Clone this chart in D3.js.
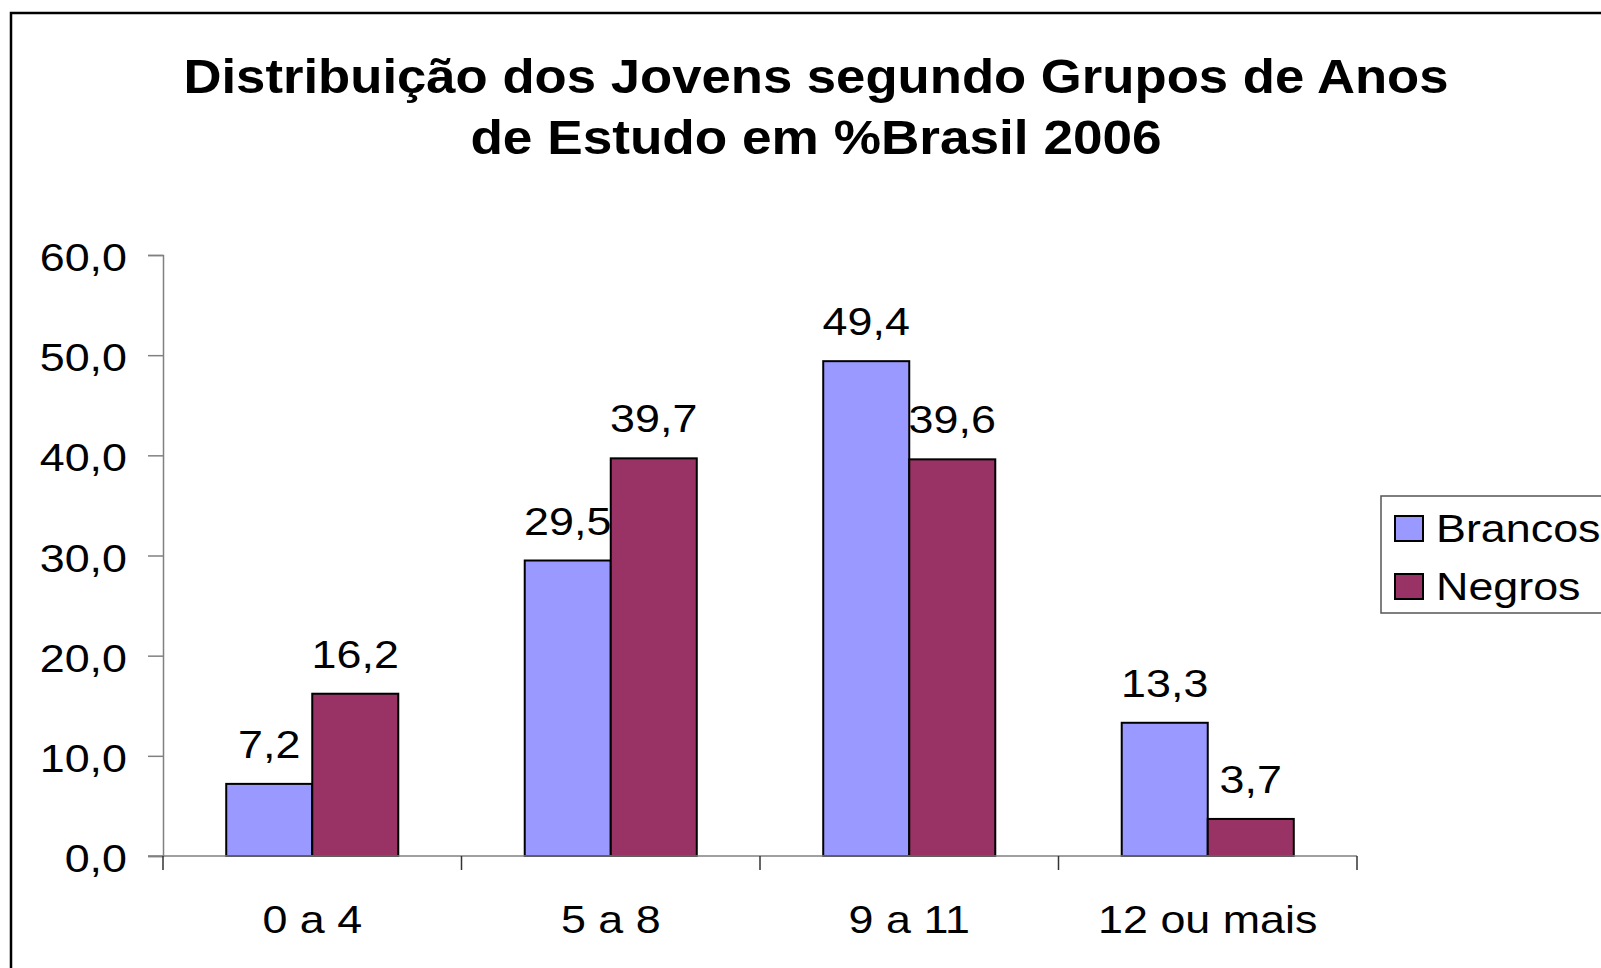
<!DOCTYPE html>
<meta charset="utf-8">
<script src="https://d3js.org/d3.v7.min.js"></script>
<style>
  body { margin: 0; background: #fff; }
  text { font-family: "Liberation Sans", Arial, sans-serif; fill: #000; }
</style>
<div id="my_dataviz"></div>
<script>

  // data
  var categories = ["0 a 4", "5 a 8", "9 a 11", "12 ou mais"];
  var series = ["Brancos", "Negros"];
  var brancos = [7.2, 29.5, 49.4, 13.3];
  var negros = [16.2, 39.7, 39.6, 3.7];
  var yTicks = [0, 10, 20, 30, 40, 50, 60];
  var titleLines = ["Distribuição dos Jovens segundo Grupos de Anos", "de Estudo em %Brasil 2006"];

  var colors = {"Brancos": "#9999ff", "Negros": "#993366"};
  var fmt = function(v) { return v.toFixed(1).replace(".", ","); };

  var W = 1601, H = 968;
  var SX = 1.15;      // text in the picture is stretched sideways
  var FS = 39;

  var svg = d3.select("#my_dataviz")
    .append("svg")
      .attr("width", W)
      .attr("height", H);

  // outer frame
  svg.append("rect")
    .attr("x", 11).attr("y", 13)
    .attr("width", 1700).attr("height", 1000)
    .attr("fill", "none")
    .attr("stroke", "#000")
    .attr("stroke-width", 2.5);

  function label(x, y, str, anchor, size, sx, weight) {
    return svg.append("text")
      .attr("transform", "translate(" + x + "," + y + ") scale(" + sx + ",1)")
      .attr("text-anchor", anchor)
      .style("font-size", size + "px")
      .style("font-weight", weight || "normal")
      .text(str);
  }

  // title
  label(816, 93, titleLines[0], "middle", 49, 1.075, "bold");
  label(816, 154, titleLines[1], "middle", 49, 1.085, "bold");

  // scales
  var y = d3.scaleLinear().domain([0, 60]).range([856, 255]);
  var x = d3.scaleBand().domain(categories).range([163, 1357]).paddingInner(0).paddingOuter(0);
  var xSub = d3.scaleBand().domain(series).range([0, x.bandwidth()]).paddingInner(0).paddingOuter(0.735);

  var axisColor = "#808080";

  // y axis
  var yAxis = svg.append("g")
    .attr("transform", "translate(163,0)")
    .call(d3.axisLeft(y).tickValues(yTicks).tickSize(15).tickFormat(""));
  yAxis.select(".domain").attr("stroke", axisColor).attr("stroke-width", 1.5);
  yAxis.selectAll(".tick line").attr("stroke", axisColor).attr("stroke-width", 1.5);
  yTicks.forEach(function(t) {
    label(127, y(t) + 16, fmt(t), "end", FS, SX);
  });

  // bars
  var data = [];
  categories.forEach(function(c, i) {
    data.push({cat: c, s: "Brancos", v: brancos[i]});
    data.push({cat: c, s: "Negros", v: negros[i]});
  });

  svg.append("g")
    .selectAll("rect")
    .data(data)
    .enter()
    .append("rect")
      .attr("x", function(d) { return x(d.cat) + xSub(d.s); })
      .attr("y", function(d) { return y(d.v); })
      .attr("width", xSub.bandwidth())
      .attr("height", function(d) { return y(0) - y(d.v); })
      .attr("fill", function(d) { return colors[d.s]; })
      .attr("stroke", "#000")
      .attr("stroke-width", 2);

  // x axis
  var xAxis = svg.append("g")
    .attr("transform", "translate(0,856)");
  xAxis.append("line")
    .attr("x1", 148).attr("x2", 1357)
    .attr("stroke", axisColor).attr("stroke-width", 1.5);
  d3.range(categories.length + 1).forEach(function(i) {
    var xx = i < categories.length ? x(categories[i]) : x.range()[1];
    xAxis.append("line")
      .attr("x1", xx).attr("x2", xx)
      .attr("y1", 0).attr("y2", 14)
      .attr("stroke", "#333").attr("stroke-width", 1.5);
  });
  categories.forEach(function(c) {
    label(x(c) + x.bandwidth() / 2, 933, c, "middle", FS, SX);
  });

  // value labels
  data.forEach(function(d) {
    label(x(d.cat) + xSub(d.s) + xSub.bandwidth() / 2, y(d.v) - 26, fmt(d.v), "middle", FS, SX);
  });

  // legend
  svg.append("rect")
    .attr("x", 1381).attr("y", 496)
    .attr("width", 300).attr("height", 117)
    .attr("fill", "#fff")
    .attr("stroke", "#555")
    .attr("stroke-width", 1.5);
  series.forEach(function(s, i) {
    var yy = 516 + i * 58;
    svg.append("rect")
      .attr("x", 1395).attr("y", yy)
      .attr("width", 28).attr("height", 25)
      .attr("fill", colors[s])
      .attr("stroke", "#000")
      .attr("stroke-width", 2);
    label(1436, yy + 26, s, "start", FS, SX);
  });

</script>
